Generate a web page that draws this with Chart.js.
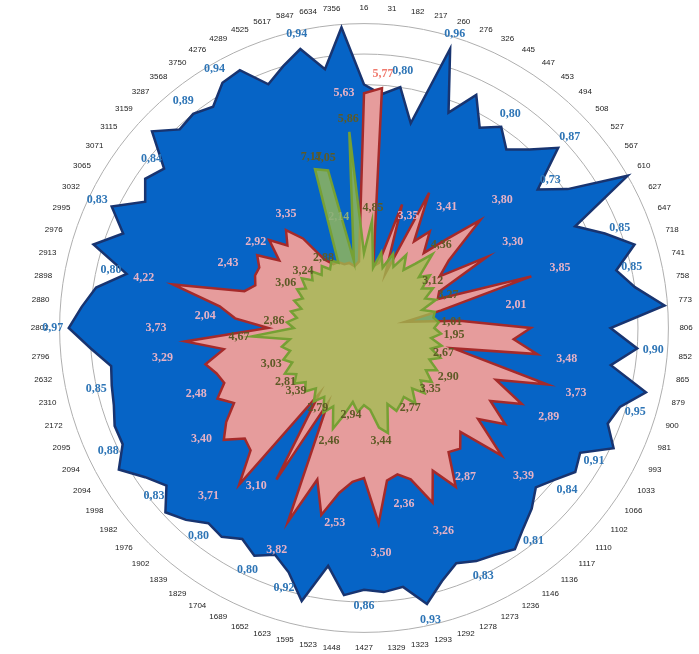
<!DOCTYPE html>
<html>
<head>
<meta charset="utf-8">
<script src="https://cdn.jsdelivr.net/npm/chart.js@4.4.1/dist/chart.umd.min.js"></script>
<style>
  body { margin: 0; background: #fff; }
  #wrap { width: 699px; height: 654px; }
</style>
</head>
<body>
<div id="wrap"><canvas id="myChart" width="699" height="654"></canvas></div>
<script>
// categories round the circle, clockwise from the top
const categories = ['16','31','182','217','260','276','326','445','447','453','494','508','527','567','610','627','647','718','741','758',
  '773','806','852','865','879','900','981','993','1033','1066','1102','1110','1117','1136','1146','1236','1273','1278','1292','1293',
  '1323','1329','1427','1448','1523','1595','1623','1652','1689','1704','1829','1839','1902','1976','1982','1998','2094','2094','2095','2172',
  '2310','2632','2796','2802','2880','2898','2913','2976','2995','3032','3065','3071','3115','3159','3287','3568','3750','4276','4289','4525',
  '5617','5847','6634','7356'];

// blue series (own scale 0..1)
const blueValues = [0.80,0.77,0.80,0.69,0.96,0.76,0.85,0.76,0.80,0.75, 0.80,0.87,0.73,0.81,1.00,0.77,0.85,0.93,0.85,0.90,
  0.99,0.81,0.90,0.82,0.95,0.88,0.86,0.91,0.82,0.84, 0.80,0.77,0.81,0.84,0.88,0.86,0.85,0.83,0.87,0.93,
  0.86,0.87,0.86,0.88,0.79,0.92,0.84,0.80,0.83,0.80, 0.83,0.82,0.86,0.89,0.83,0.87,0.93,0.88,0.88,0.86,
  0.85,0.84,0.90,0.97,0.93,0.89,0.80,0.93,0.85,0.92, 0.83,0.87,0.84,0.95,0.89,0.90,0.88,0.93,0.94,0.86,
  0.90,0.94,0.86,0.99];

// pink series
const pinkValues = [5.63,5.77,1.5,1.6,3.1,1.4,3.6,2.4,2.8,2.3, 2.9,3.8,2.6,2.2,3.4,2.0,1.9,4.2,1.9,1.0,
  2.3,4.0,3.6,4.2,2.2,4.6,3.4,4.2,3.5,4.1, 3.5,4.5,3.4,3.7,3.6,4.4,3.8,4.5,3.8,3.6,
  3.7,4.7,3.6,3.7,4.0,4.6,3.8,5.0,2.0,4.2, 1.9,4.8,4.0,3.9,4.3,4.0,3.6,3.9,3.6,3.7,
  3.9,3.4,4.3,2.3,3.1,3.5,4.7,3.0,2.8,2.9, 2.9,3.1,2.6,3.1,2.7,3.0,2.6,1.9,1.7,1.7,
  1.6,1.6,1.5,1.6];

// green series
const greenValues = [3.2,4.6,2.6,3.3,2.7,3.4,2.9,3.6,3.0,3.5, 4.3,3.2,3.6,3.0,3.4,2.9,3.3,2.6,3.1,3.0,
  3.2,3.0,3.3,2.9,3.4,3.0,3.5,3.1,3.6,3.2, 3.7,3.3,3.8,3.3,3.9,3.4,3.6,3.8,3.4,4.6,
  4.3,3.5,3.3,3.6,3.2,3.8,4.5,3.6,4.0,3.4, 3.8,3.3,3.7,3.4,3.8,3.5,3.9,3.4,3.7,3.3,
  3.6,3.2,4.8,3.0,3.3,2.9,3.2,2.8,3.2,2.9, 3.3,3.0,3.4,3.0,3.3,2.9,3.2,2.9,3.2,3.0,
  7.1,6.9,2.9,8.4];

// data labels written on the chart: [category index, text]
const blueTags = [[2,'0,80'],[4,'0,96'],[8,'0,80'],[11,'0,87'],[12,'0,73'],[16,'0,85'],[18,'0,85'],[22,'0,90'],
  [25,'0,95'],[28,'0,91'],[30,'0,84'],[33,'0,81'],[36,'0,83'],[39,'0,93'],[42,'0,86'],[46,'0,92'],[48,'0,80'],
  [51,'0,80'],[54,'0,83'],[57,'0,88'],[60,'0,85'],[63,'0,97'],[66,'0,80'],[69,'0,83'],[72,'0,84'],[75,'0,89'],
  [77,'0,94'],[81,'0,94']];
const pinkTags = [[8,'3,41'],[11,'3,80'],[14,'3,30'],[17,'3,85'],[23,'3,48'],
  [25,'3,73'],[27,'2,89'],[31,'3,39'],[34,'2,87'],[37,'3,26'],[39,'2,36'],[41,'3,50'],[44,'2,53'],[47,'3,82'],
  [55,'3,40'],[58,'2,48'],[64,'2,04'],[66,'4,22'],[69,'2,43'],[72,'2,92'],[76,'3,35']];
const pinkMidTags = [[5,'3,35'],[52,'3,71'],[61,'3,29']];
const pinkFarTags = [[19,'2,01'],[50,'3,10'],[63,'3,73']];
const pinkColumnTags = [[1,'5,77']];
const pinkSideTags = [[0,'5,63']];
const greenTags = [[83,'5,86'],[80,'7,17'],[81,'4,05'],[1,'4,85'],[77,'2,88'],[73,'3,24'],[70,'3,06'],[64,'2,86'],
  [62,'4,67'],[58,'3,03'],[55,'2,81'],[53,'3,39'],[49,'2,79'],[46,'2,46'],[44,'2,94'],[40,'3,44'],[35,'2,77'],
  [31,'3,35'],[28,'2,90'],[25,'2,67'],[22,'1,95'],[20,'1,01'],[16,'3,27'],[13,'3,12'],[10,'4,36']];
const greenInnerTags = [[81,'2,14']];

const labelFont = { family: 'Liberation Sans', size: 8 };

function hiddenScale(max) {
  return {
    min: 0, max: max,
    grid: { display: false },
    angleLines: { display: false },
    ticks: { display: false },
    pointLabels: { color: 'rgba(0,0,0,0)', font: labelFont, padding: 11 }
  };
}

// draws the value labels, pushed out from the point along its spoke
const tagPlugin = {
  id: 'tags',
  afterDatasetsDraw(chart) {
    const c = chart.ctx;
    const sets = [
      { ds: 2, tags: blueTags, off: 16, color: '#2E75B6' },
      { ds: 1, tags: pinkTags, off: 30, color: '#E6B2C6' },
      { ds: 1, tags: pinkMidTags, off: 62, color: '#E6B2C6' },
      { ds: 1, tags: pinkFarTags, off: 112, color: '#E6B2C6' },
      { ds: 1, tags: pinkColumnTags, off: 14, color: '#F07A6E' },
      { ds: 1, tags: pinkSideTags, off: 0, dx: -20, color: '#E6B2C6' },
      { ds: 0, tags: greenTags, off: 13, color: '#5E5A26' },
      { ds: 0, tags: greenInnerTags, off: -48, color: '#8FB07A' }
    ];
    c.save();
    c.font = 'bold 12px "Liberation Serif"';
    c.textAlign = 'center';
    c.textBaseline = 'middle';
    sets.forEach(s => {
      const dataset = chart.data.datasets[s.ds];
      const scale = chart.scales[dataset.rAxisID];
      c.fillStyle = s.color;
      s.tags.forEach(([i, txt]) => {
        const d = scale.getDistanceFromCenterForValue(dataset.data[i]) + s.off;
        const p = scale.getPointPosition(i, d);
        c.fillText(txt, p.x + (s.dx || 0), p.y);
      });
    });
    c.restore();
  }
};

const ctx = document.getElementById('myChart');

const data = {
  labels: categories,
  datasets: [{
    label: 'green',
    data: greenValues,
    rAxisID: 'rGreen',
    backgroundColor: 'rgba(160,190,80,0.76)',
    borderColor: 'rgb(118,160,52)',
    borderWidth: 2.5
  }, {
    label: 'pink',
    data: pinkValues,
    rAxisID: 'rPink',
    backgroundColor: 'rgb(230,156,156)',
    borderColor: 'rgb(165,42,42)',
    borderWidth: 2.5
  }, {
    label: 'blue',
    data: blueValues,
    rAxisID: 'r',
    backgroundColor: 'rgb(6,100,198)',
    borderColor: 'rgb(24,52,112)',
    borderWidth: 2.5
  }]
};

const config = {
  type: 'radar',
  data,
  plugins: [tagPlugin],
  options: {
    responsive: false,
    animation: false,
    layout: { padding: { left: 26, right: 0, top: 4, bottom: 0 } },
    elements: {
      point: { radius: 0, hoverRadius: 0 },
      line: { tension: 0 }
    },
    plugins: {
      legend: { display: false },
      tooltip: { enabled: false }
    },
    scales: {
      r: {
        min: 0, max: 1,
        ticks: { display: false, stepSize: 0.1 },
        grid: { circular: true, color: 'rgb(175,175,175)', lineWidth: 1 },
        angleLines: { display: false },
        pointLabels: { color: '#222', font: labelFont, padding: 11 }
      },
      rPink: hiddenScale(7.3),
      rGreen: hiddenScale(13)
    }
  }
};

let myChart = new Chart(ctx, config);
</script>
</body>
</html>
